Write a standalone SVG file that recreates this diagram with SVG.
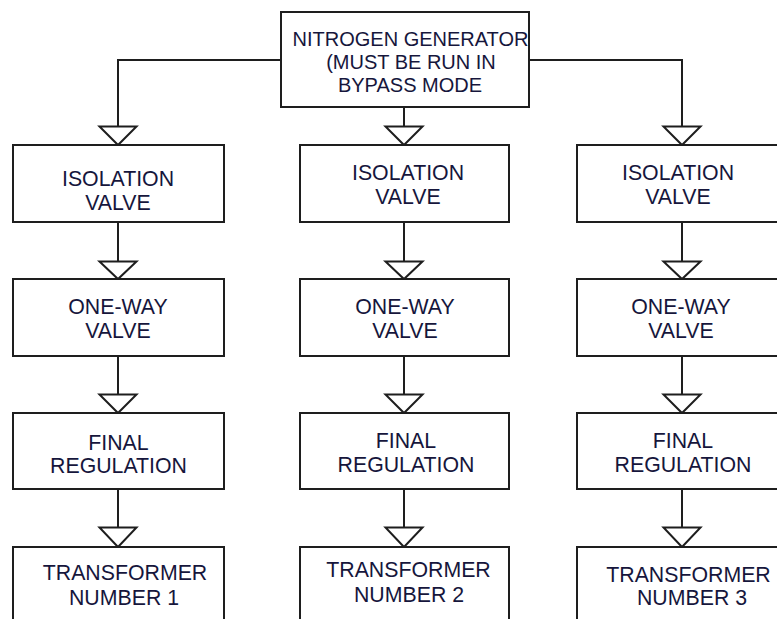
<svg xmlns="http://www.w3.org/2000/svg" width="777" height="619" viewBox="0 0 777 619">
<style>
.box{fill:#fff;stroke:#1e1e1e;stroke-width:2}
.ln{fill:none;stroke:#1e1e1e;stroke-width:2}
.ah{fill:#fff;stroke:#1e1e1e;stroke-width:2;stroke-linejoin:miter}
text{font-family:"Liberation Sans",Arial,sans-serif;font-size:21.3px;fill:#16163c;text-anchor:middle}
#generator text{font-size:20px}
</style>
<rect width="777" height="619" fill="#fff"/>
<g id="connectors">
<path class="ln" d="M281 60H118V127"/>
<path class="ln" d="M404 107V127"/>
<path class="ln" d="M529 60H682V127"/>
<path class="ln" d="M118 222V262M404 222V262M682 222V262"/>
<path class="ln" d="M118 356V395M404 356V395M682 356V395"/>
<path class="ln" d="M118 489V528M404 489V528M682 489V528"/>
<path class="ah" d="M99.5 126.5H136.5L118 145ZM385.5 126.5H422.5L404 145ZM663.5 126.5H700.5L682 145Z"/>
<path class="ah" d="M99.5 261.5H136.5L118 279ZM385.5 261.5H422.5L404 279ZM663.5 261.5H700.5L682 279Z"/>
<path class="ah" d="M99.5 394.5H136.5L118 413ZM385.5 394.5H422.5L404 413ZM663.5 394.5H700.5L682 413Z"/>
<path class="ah" d="M99.5 527.5H136.5L118 547ZM385.5 527.5H422.5L404 547ZM663.5 527.5H700.5L682 547Z"/>
</g>
<g id="generator">
<rect class="box" x="281" y="12" width="248" height="95"/>
<text x="410.5" y="46">NITROGEN GENERATOR</text>
<text x="411" y="69">(MUST BE RUN IN</text>
<text x="410" y="92">BYPASS MODE</text>
</g>
<g id="iso1"><rect class="box" x="13" y="145" width="211" height="77"/><text x="118" y="186">ISOLATION</text><text x="118" y="210">VALVE</text></g>
<g id="iso2"><rect class="box" x="300" y="145" width="209" height="77"/><text x="408" y="180">ISOLATION</text><text x="408" y="204">VALVE</text></g>
<g id="iso3"><rect class="box" x="577" y="145" width="211" height="77"/><text x="678" y="180">ISOLATION</text><text x="678" y="204">VALVE</text></g>
<g id="ow1"><rect class="box" x="13" y="279" width="211" height="77"/><text x="118" y="314">ONE-WAY</text><text x="118" y="338">VALVE</text></g>
<g id="ow2"><rect class="box" x="300" y="279" width="209" height="77"/><text x="405" y="314">ONE-WAY</text><text x="405" y="338">VALVE</text></g>
<g id="ow3"><rect class="box" x="577" y="279" width="211" height="77"/><text x="681" y="314">ONE-WAY</text><text x="681" y="338">VALVE</text></g>
<g id="reg1"><rect class="box" x="13" y="413" width="211" height="76"/><text x="118.5" y="450">FINAL</text><text x="118.5" y="473">REGULATION</text></g>
<g id="reg2"><rect class="box" x="300" y="413" width="209" height="76"/><text x="406" y="448">FINAL</text><text x="406" y="472">REGULATION</text></g>
<g id="reg3"><rect class="box" x="577" y="413" width="211" height="76"/><text x="683" y="448">FINAL</text><text x="683" y="472">REGULATION</text></g>
<g id="tr1"><rect class="box" x="13" y="547" width="211" height="80"/><text x="125" y="580">TRANSFORMER</text><text x="124" y="605">NUMBER 1</text></g>
<g id="tr2"><rect class="box" x="300" y="547" width="209" height="80"/><text x="408.5" y="577">TRANSFORMER</text><text x="409" y="602">NUMBER 2</text></g>
<g id="tr3"><rect class="box" x="577" y="547" width="211" height="80"/><text x="688.5" y="582">TRANSFORMER</text><text x="692" y="605">NUMBER 3</text></g>
</svg>
